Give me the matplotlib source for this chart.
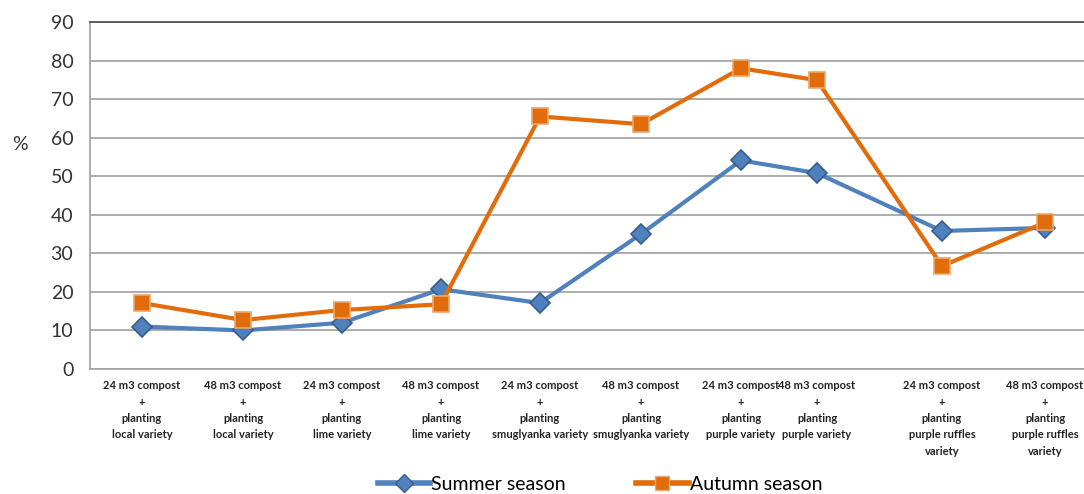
import matplotlib
matplotlib.use("Agg")
import matplotlib.pyplot as plt
from matplotlib.lines import Line2D

categories = [
    "24 m3 compost\n+\nplanting\nlocal variety",
    "48 m3 compost\n+\nplanting\nlocal variety",
    "24 m3 compost\n+\nplanting\nlime variety",
    "48 m3 compost\n+\nplanting\nlime variety",
    "24 m3 compost\n+\nplanting\nsmuglyanka variety",
    "48 m3 compost\n+\nplanting\nsmuglyanka variety",
    "24 m3 compost\n+\nplanting\npurple variety",
    "48 m3 compost\n+\nplanting\npurple variety",
    "24 m3 compost\n+\nplanting\npurple ruffles\nvariety",
    "48 m3 compost\n+\nplanting\npurple ruffles\nvariety",
]
summer = [11, 10, 12, 20.7, 17.1, 35, 54.1, 50.8, 35.8, 36.6]
autumn = [17.1, 12.7, 15.3, 16.8, 65.5, 63.5, 78, 74.9, 26.7, 38]
yticks = [0, 10, 20, 30, 40, 50, 60, 70, 80, 90]

# layout: category positions along the axis (non-uniform as in original)
xpos = [0.52, 1.53, 2.52, 3.51, 4.50, 5.51, 6.51, 7.27, 8.52, 9.55]

fam = ["Lato", "DejaVu Sans"]

fig = plt.figure(figsize=(10.84, 4.94), dpi=100)
ax = fig.add_axes([90/1084, 1-369/494, 994/1084, 347/494])

blue = "#4f81bd"
orange = "#e36c0a"
ax.plot(xpos, summer, color=blue, lw=3, marker="D", ms=10,
        mfc=blue, mec="#385d8a", mew=1.2, zorder=3)
ax.plot(xpos, autumn, color=orange, lw=3, marker="s", ms=11,
        mfc=orange, mec="#e8a870", mew=1.2, zorder=4)

ax.set_xlim(0, 9.94)
ax.set_ylim(0, 90)
ax.set_yticks(yticks)
ax.set_yticklabels([str(v) for v in yticks], fontsize=14, family=fam, color="#333333")
ax.set_xticks(xpos)
ax.set_xticklabels(categories, fontsize=8, family=fam, fontweight="bold",
                   linespacing=1.6, va="top", color="#222222")
ax.tick_params(axis="x", length=0, pad=8)
ax.tick_params(axis="y", length=0, pad=12)
ax.grid(axis="y", color="#a6a6a6", lw=1.3)
ax.set_axisbelow(True)
ax.spines["right"].set_visible(False)
ax.spines["top"].set_color("#555555")
ax.spines["top"].set_linewidth(1.3)
ax.spines["left"].set_color("#a6a6a6")
ax.spines["left"].set_linewidth(1.3)
ax.spines["bottom"].set_color("#a6a6a6")
ax.spines["bottom"].set_linewidth(1.3)

fig.text(20/1084, 1-145/494, "%", fontsize=14, family=fam, ha="center", va="center", color="#333333")

handles = [
    Line2D([0], [0], color=blue, lw=4, marker="D", ms=9, mfc=blue, mec="#385d8a"),
    Line2D([0], [0], color=orange, lw=4, marker="s", ms=10, mfc=orange, mec="#e8a870"),
]
fig.legend(handles, ["Summer season", "Autumn season"], loc="center",
           bbox_to_anchor=(600/1084, 1-484/494), ncol=2, frameon=False,
           prop={"family": fam, "size": 14}, handlelength=2.7,
           handletextpad=0.05, columnspacing=3.6)

fig.savefig("out.png", dpi=100)
